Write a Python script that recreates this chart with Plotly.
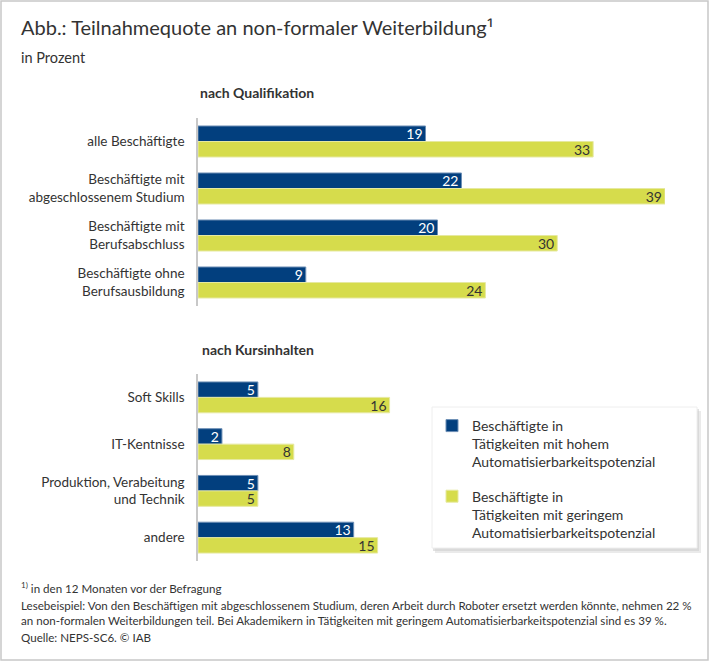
import plotly.graph_objects as go

W, H = 710, 663

qual_cats = ["alle Beschäftigte", "Beschäftigte mit<br>abgeschlossenem Studium",
             "Beschäftigte mit<br>Berufsabschluss", "Beschäftigte ohne<br>Berufsausbildung"]
qual_high = [19, 22, 20, 9]
qual_low = [33, 39, 30, 24]

kurs_cats = ["Soft Skills", "IT-Kentnisse", "Produktion, Verabeitung<br>und Technik", "andere"]
kurs_high = [5, 2, 5, 13]
kurs_low = [16, 8, 5, 15]

name_high = "Beschäftigte in<br>Tätigkeiten mit hohem<br>Automatisierbarkeitspotenzial"
name_low = "Beschäftigte in<br>Tätigkeiten mit geringem<br>Automatisierbarkeitspotenzial"

NAVY = "#023f7e"
YELLOW = "#d6dc4c"
FONT = "Lato"
TXT = "#333333"

def px_x(p):
    return p / W

def px_y(p):
    return 1 - p / H

fig = go.Figure()

common = dict(orientation="h", textposition="inside", insidetextanchor="end",
              textangle=0, constraintext="none",
              textfont=dict(size=14, family=FONT), cliponaxis=False)

fig.add_trace(go.Bar(x=qual_high, y=qual_cats, name=name_high, marker_color=NAVY,
                     marker_line=dict(color="#6d8fb5", width=1),
                     text=qual_high, insidetextfont=dict(color="white", size=14, family=FONT),
                     xaxis="x", yaxis="y", legendgroup="h", **common))
fig.add_trace(go.Bar(x=qual_low, y=qual_cats, name=name_low, marker_color=YELLOW,
                     marker_line=dict(color="#e6e9a0", width=1),
                     text=qual_low, insidetextfont=dict(color=TXT, size=14, family=FONT),
                     xaxis="x", yaxis="y", legendgroup="l", **common))
fig.add_trace(go.Bar(x=kurs_high, y=kurs_cats, name=name_high, marker_color=NAVY,
                     marker_line=dict(color="#6d8fb5", width=1),
                     text=kurs_high, insidetextfont=dict(color="white", size=14, family=FONT),
                     xaxis="x2", yaxis="y2", legendgroup="h", showlegend=False, **common))
fig.add_trace(go.Bar(x=kurs_low, y=kurs_cats, name=name_low, marker_color=YELLOW,
                     marker_line=dict(color="#e6e9a0", width=1),
                     text=kurs_low, insidetextfont=dict(color=TXT, size=14, family=FONT),
                     xaxis="x2", yaxis="y2", legendgroup="l", showlegend=False, **common))

xdom = [px_x(198), px_x(665)]
xax = dict(domain=xdom, range=[0, 39], showticklabels=False, showgrid=False,
           zeroline=False, showline=False, fixedrange=True)
yax = dict(autorange="reversed", showgrid=False, zeroline=False, showline=True,
           linecolor="#c8c8c8", linewidth=1.5, ticks="", ticklabelstandoff=9,
           tickfont=dict(size=13.5, family=FONT, color=TXT))

fig.update_layout(
    width=W, height=H,
    margin=dict(l=0, r=0, t=0, b=0),
    paper_bgcolor="white", plot_bgcolor="white",
    barmode="group", bargap=0.34, bargroupgap=0,
    font=dict(family=FONT, color=TXT),
    xaxis=dict(**xax, anchor="y"),
    yaxis=dict(**yax, domain=[px_y(306), px_y(118)], anchor="x"),
    xaxis2=dict(**xax, anchor="y2"),
    yaxis2=dict(**yax, domain=[px_y(561), px_y(374)], anchor="x2"),
    legend=dict(x=px_x(432), y=px_y(410), xanchor="left", yanchor="top",
                bgcolor="rgba(0,0,0,0)", font=dict(size=14, family=FONT, color=TXT),
                tracegroupgap=13, itemwidth=30, traceorder="grouped",
                valign="top", borderwidth=0),
    showlegend=True,
)

shapes = [
    # legend shadow and box
    dict(type="rect", xref="paper", yref="paper", x0=px_x(435), x1=px_x(701),
         y0=px_y(553), y1=px_y(411), fillcolor="#dcdcdc", line_width=0, layer="above", opacity=0.6),
    dict(type="rect", xref="paper", yref="paper", x0=px_x(433), x1=px_x(699),
         y0=px_y(551), y1=px_y(409), fillcolor="#cfcfcf", line_width=0, layer="above", opacity=0.6),
    dict(type="rect", xref="paper", yref="paper", x0=px_x(432), x1=px_x(697),
         y0=px_y(548), y1=px_y(407), fillcolor="white", line=dict(color="#eeeeee", width=1), layer="above"),
    # outer border
    dict(type="rect", xref="paper", yref="paper", x0=px_x(1), x1=px_x(708),
         y0=px_y(660), y1=px_y(1), line=dict(color="#c8c8c8", width=1.5), fillcolor="rgba(0,0,0,0)"),
]
fig.update_layout(shapes=shapes)

FS = 11.6
ann = [
    dict(text="Abb.: Teilnahmequote an non-formaler Weiterbildung<span style=\"font-family:'Noto Sans'\">¹</span>",
         x=px_x(19), y=px_y(28), font=dict(size=20, family=FONT, color=TXT)),
    dict(text="in Prozent", x=px_x(19), y=px_y(57), font=dict(size=14.5, family=FONT, color=TXT)),
    dict(text="<b>nach Qualifikation</b>", x=px_x(198), y=px_y(93), font=dict(size=14, family=FONT, color=TXT)),
    dict(text="<b>nach Kursinhalten</b>", x=px_x(200), y=px_y(349), font=dict(size=14, family=FONT, color=TXT)),
    dict(text="<sup>1)</sup> in den 12 Monaten vor der Befragung", x=px_x(19), y=px_y(587),
         font=dict(size=FS, family=FONT, color=TXT)),
    dict(text="Lesebeispiel: Von den Beschäftigen mit abgeschlossenem Studium, deren Arbeit durch Roboter ersetzt werden könnte, nehmen 22 %",
         x=px_x(19), y=px_y(605), font=dict(size=FS, family=FONT, color=TXT)),
    dict(text="an non-formalen Weiterbildungen teil. Bei Akademikern in Tätigkeiten mit geringem Automatisierbarkeitspotenzial sind es 39 %.",
         x=px_x(19), y=px_y(620), font=dict(size=FS, family=FONT, color=TXT)),
    dict(text="Quelle: NEPS-SC6. © IAB", x=px_x(19), y=px_y(637), font=dict(size=FS, family=FONT, color=TXT)),
]
for a in ann:
    a.update(xref="paper", yref="paper", xanchor="left", yanchor="middle", showarrow=False)
fig.update_layout(annotations=ann)

fig.write_html("out.html", config={"displayModeBar": False},
               post_script="document.body.style.margin='0';document.body.style.padding='0';")
